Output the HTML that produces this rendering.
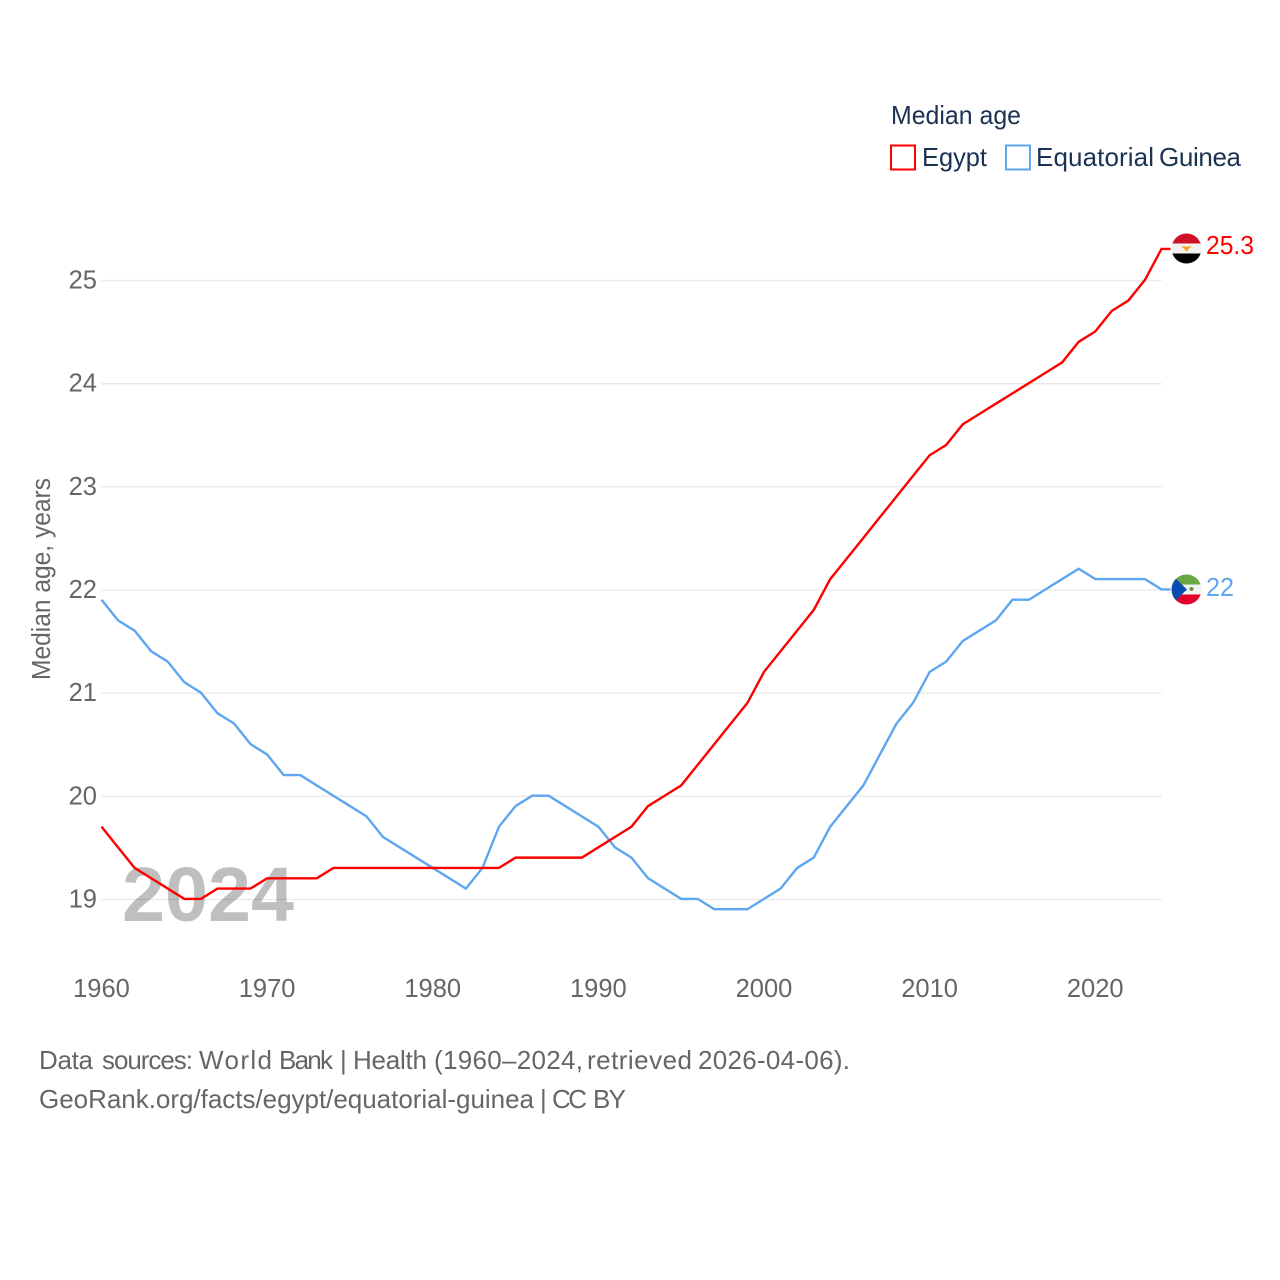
<!DOCTYPE html>
<html>
<head>
<meta charset="utf-8">
<title>Median age: Egypt and Equatorial Guinea</title>
<style>
html,body{margin:0;padding:0;background:#fff;width:1280px;height:1280px;overflow:hidden}
svg{display:block}
text{font-family:"Liberation Sans",sans-serif}
tspan{font-family:"Liberation Sans",sans-serif}
</style>
</head>
<body>
<svg id="chart" xmlns="http://www.w3.org/2000/svg" width="1280" height="1280" viewBox="0 0 1280 1280">
  <defs>
    <clipPath id="eg-clip"><circle cx="1186.5" cy="248.5" r="15"/></clipPath>
    <clipPath id="gq-clip"><circle cx="1186.5" cy="589.5" r="15"/></clipPath>
  </defs>
  <g id="grid"></g>
  <text x="122" y="921" font-size="77" font-weight="bold" fill="#000" fill-opacity="0.25" textLength="172" lengthAdjust="spacingAndGlyphs">2024</text>
  <g id="y-ticks"></g>
  <g id="x-ticks"></g>
  <g id="series"></g>
  <text transform="translate(50,680) rotate(-90)" font-size="25.5" fill="#666" textLength="202" lengthAdjust="spacingAndGlyphs">Median age, years</text>

  <g>
    <text x="891" y="124" font-size="26" fill="#1b3252" textLength="130" lengthAdjust="spacingAndGlyphs">Median age</text>
    <g>
      <rect x="891" y="145.500" width="24" height="24" fill="none" stroke="#ff0000" stroke-width="2"/>
      <text x="922" y="166" font-size="26" fill="#1b3252" textLength="65" lengthAdjust="spacingAndGlyphs">Egypt</text>
    </g>
    <g>
      <rect x="1006" y="145.500" width="24" height="24" fill="none" stroke="#5fa6f0" stroke-width="2"/>
      <text y="166" font-size="26" fill="#1b3252"><tspan x="1036" textLength="118" lengthAdjust="spacing">Equatorial</tspan> <tspan x="1159" textLength="82" lengthAdjust="spacing">Guinea</tspan></text>
    </g>
  </g>

  <g clip-path="url(#eg-clip)">
    <rect x="1171" y="233" width="31" height="10.500" fill="#ce1126"/>
    <rect x="1171" y="243.500" width="31" height="10" fill="#f2f2f2"/>
    <rect x="1171" y="253.500" width="31" height="11" fill="#000"/>
    <path d="M1181 246.500 h11 l-3 2 -2.500 3 -2.500 -3 z" fill="#f7a11c"/>
  </g>
  <g clip-path="url(#gq-clip)">
    <rect x="1171" y="574" width="31" height="10.500" fill="#6ba644"/>
    <rect x="1171" y="584.500" width="31" height="10" fill="#f2f2f2"/>
    <rect x="1171" y="594.500" width="31" height="11" fill="#e3002b"/>
    <path d="M1171 574 L1187 589.500 L1171 605 Z" fill="#0a4bb0"/>
    <circle cx="1191.500" cy="589" r="2" fill="#6b8e4e"/>
  </g>

  <text x="1206" y="254" font-size="25.500" fill="#ff0000" textLength="48" lengthAdjust="spacingAndGlyphs">25.3</text>
  <text x="1206" y="596" font-size="25.500" fill="#5fa6f0" textLength="28" lengthAdjust="spacingAndGlyphs">22</text>

  <text y="1069" font-size="26" fill="#666"><tspan x="39" textLength="54" lengthAdjust="spacing">Data</tspan> <tspan x="102" textLength="91" lengthAdjust="spacing">sources:</tspan> <tspan x="199" textLength="73" lengthAdjust="spacing">World</tspan> <tspan x="279" textLength="54" lengthAdjust="spacing">Bank</tspan> <tspan x="340">|</tspan> <tspan x="353" textLength="74" lengthAdjust="spacing">Health</tspan> <tspan x="434" textLength="149" lengthAdjust="spacing">(1960–2024,</tspan> <tspan x="587" textLength="105" lengthAdjust="spacing">retrieved</tspan> <tspan x="698" textLength="152" lengthAdjust="spacing">2026-04-06).</tspan></text>
  <text y="1108" font-size="26" fill="#666"><tspan x="39" textLength="495" lengthAdjust="spacing">GeoRank.org/facts/egypt/equatorial-guinea</tspan> <tspan x="540">|</tspan> <tspan x="552" textLength="35" lengthAdjust="spacing">CC</tspan> <tspan x="593" textLength="33" lengthAdjust="spacing">BY</tspan></text>
</svg>
<script>
var years = [1960,1961,1962,1963,1964,1965,1966,1967,1968,1969,1970,1971,1972,1973,1974,1975,1976,1977,1978,1979,1980,1981,1982,1983,1984,1985,1986,1987,1988,1989,1990,1991,1992,1993,1994,1995,1996,1997,1998,1999,2000,2001,2002,2003,2004,2005,2006,2007,2008,2009,2010,2011,2012,2013,2014,2015,2016,2017,2018,2019,2020,2021,2022,2023,2024];
var egyptValues = [19.7,19.5,19.3,19.2,19.1,19.0,19.0,19.1,19.1,19.1,19.2,19.2,19.2,19.2,19.3,19.3,19.3,19.3,19.3,19.3,19.3,19.3,19.3,19.3,19.3,19.4,19.4,19.4,19.4,19.4,19.5,19.6,19.7,19.9,20.0,20.1,20.3,20.5,20.7,20.9,21.2,21.4,21.6,21.8,22.1,22.3,22.5,22.7,22.9,23.1,23.3,23.4,23.6,23.7,23.8,23.9,24.0,24.1,24.2,24.4,24.5,24.7,24.8,25.0,25.3];
var guineaValues = [21.9,21.7,21.6,21.4,21.3,21.1,21.0,20.8,20.7,20.5,20.4,20.2,20.2,20.1,20.0,19.9,19.8,19.6,19.5,19.4,19.3,19.2,19.1,19.3,19.7,19.9,20.0,20.0,19.9,19.8,19.7,19.5,19.4,19.2,19.1,19.0,19.0,18.9,18.9,18.9,19.0,19.1,19.3,19.4,19.7,19.9,20.1,20.4,20.7,20.9,21.2,21.3,21.5,21.6,21.7,21.9,21.9,22.0,22.1,22.2,22.1,22.1,22.1,22.1,22.0];
var yTickValues = [19,20,21,22,23,24,25];
var xTickValues = [1960,1970,1980,1990,2000,2010,2020];

var SVG_NS = 'http://www.w3.org/2000/svg';
function xScale(year) { return 101.5 + (year - 1960) * (1060 / 64); }
function yScale(value) { return 899.5 - (value - 19) * (619 / 6); }

var gridGroup = document.getElementById('grid');
var yTickGroup = document.getElementById('y-ticks');
var xTickGroup = document.getElementById('x-ticks');
var seriesGroup = document.getElementById('series');

yTickValues.forEach(function (tick) {
  var line = document.createElementNS(SVG_NS, 'line');
  line.setAttribute('x1', 101.5);
  line.setAttribute('x2', 1161.5);
  line.setAttribute('y1', yScale(tick));
  line.setAttribute('y2', yScale(tick));
  line.setAttribute('stroke', '#e9e9e9');
  line.setAttribute('stroke-width', '1.3');
  
  
  gridGroup.appendChild(line);

  var label = document.createElementNS(SVG_NS, 'text');
  label.setAttribute('x', 97);
  label.setAttribute('y', yScale(tick) + 8);
  label.setAttribute('text-anchor', 'end');
  label.setAttribute('font-size', '25.5');
  label.setAttribute('fill', '#666');
  
  
  label.textContent = tick;
  yTickGroup.appendChild(label);
});

xTickValues.forEach(function (tick) {
  var label = document.createElementNS(SVG_NS, 'text');
  label.setAttribute('x', xScale(tick));
  label.setAttribute('y', 997);
  label.setAttribute('text-anchor', 'middle');
  label.setAttribute('font-size', '25.5');
  label.setAttribute('fill', '#666');
  
  
  label.textContent = tick;
  xTickGroup.appendChild(label);
});

function linePoints(values) {
  var pts = values.map(function (value, i) {
    return xScale(years[i]).toFixed(2) + ',' + (yScale(value) - 0.6).toFixed(2);
  });
  var last = values[values.length - 1];
  pts.push((xScale(years[years.length - 1]) + 9).toFixed(2) + ',' + (yScale(last) - 0.6).toFixed(2));
  return pts.join(' ');
}

var guineaLine = document.createElementNS(SVG_NS, 'polyline');
guineaLine.setAttribute('points', linePoints(guineaValues));
guineaLine.setAttribute('fill', 'none');
guineaLine.setAttribute('stroke', '#5fa6f0');
guineaLine.setAttribute('stroke-width', '2.4');


seriesGroup.appendChild(guineaLine);

var egyptLine = document.createElementNS(SVG_NS, 'polyline');
egyptLine.setAttribute('points', linePoints(egyptValues));
egyptLine.setAttribute('fill', 'none');
egyptLine.setAttribute('stroke', '#ff0000');
egyptLine.setAttribute('stroke-width', '2.4');


seriesGroup.appendChild(egyptLine);
</script>
</body>
</html>
